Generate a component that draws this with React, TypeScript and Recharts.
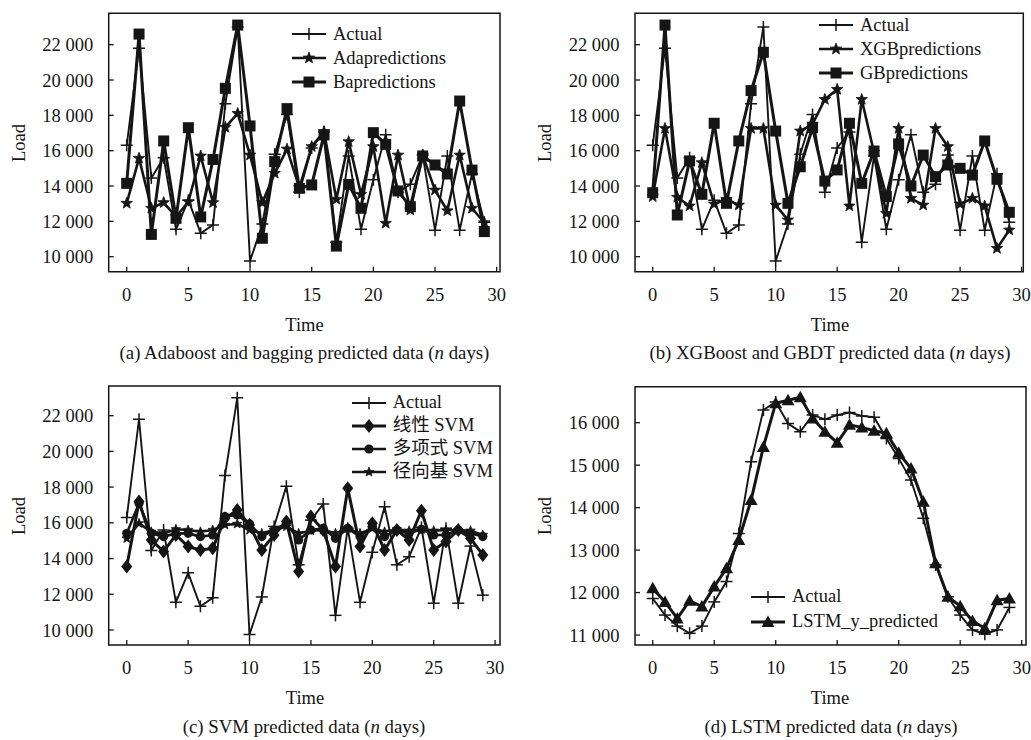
import React from 'react';
import { LineChart, Line, XAxis, YAxis, ReferenceArea, Legend } from 'recharts';

// ---------- data ----------
const days = [0, 1, 2, 3, 4, 5, 6, 7, 8, 9, 10, 11, 12, 13, 14, 15, 16, 17, 18, 19, 20, 21, 22, 23, 24, 25, 26, 27, 28, 29];

const actual = [16300, 21800, 14450, 15600, 11550, 13200, 11330, 11800, 18650, 23000, 9750, 11850, 15800, 18050, 13650, 16150, 17050, 10820, 15700, 11550, 14350, 16900, 13650, 14100, 15750, 11500, 15700, 11500, 14700, 11950];

const adaPred = [13020, 15570, 12740, 13060, 12260, 13110, 15700, 13060, 17320, 18110, 15750, 13060, 14720, 16090, 13900, 16230, 17080, 13250, 16510, 13530, 16230, 11890, 15750, 12640, 15750, 13770, 12600, 15750, 12740, 11920];
const baPred = [14150, 22600, 11260, 16550, 12170, 17300, 12250, 15500, 19530, 23110, 17400, 11040, 15380, 18380, 13870, 14060, 16890, 10600, 14090, 12740, 17020, 16360, 13720, 12830, 15700, 15190, 14680, 18810, 14900, 11420];

const xgbPred = [13400, 17260, 13360, 12870, 15320, 12980, 13250, 12920, 17260, 17260, 12920, 12080, 17110, 17500, 18900, 19470, 12870, 18900, 15900, 12450, 17260, 13300, 12920, 17260, 16230, 12980, 13300, 12870, 10470, 11510];
const gbPred = [13620, 23110, 12360, 15420, 13530, 17550, 13020, 16550, 19400, 21570, 17110, 13020, 15090, 17300, 14280, 14910, 17550, 14150, 15980, 13400, 16380, 14000, 15750, 14530, 15190, 15000, 14620, 16550, 14380, 12510];

const linearSvm = [13550, 17190, 15040, 14390, 15320, 14670, 14480, 14570, 16250, 16720, 15880, 14480, 15320, 16070, 13270, 16350, 15600, 13550, 17930, 14670, 15970, 14480, 15600, 15040, 16680, 14480, 14950, 15600, 15130, 14200];
const polySvm = [15410, 17090, 15410, 15230, 15410, 15410, 15230, 15320, 16350, 16440, 15940, 15230, 15600, 15970, 15040, 15600, 15690, 15130, 15690, 15230, 15790, 15230, 15600, 15410, 15640, 15320, 15320, 15600, 15410, 15230];
const rbfSvm = [15130, 15970, 15500, 15410, 15640, 15600, 15500, 15600, 15880, 15940, 15600, 15410, 15600, 15790, 15410, 15560, 15600, 15410, 15690, 15410, 15690, 15500, 15640, 15560, 15640, 15560, 15600, 15600, 15560, 15320];

const lstmActual = [11860, 11470, 11210, 11040, 11210, 11780, 12260, 13390, 15080, 16300, 16490, 15980, 15790, 16180, 16080, 16180, 16240, 16160, 16130, 15630, 15160, 14650, 13750, 12650, 11900, 11470, 11120, 11020, 11120, 11650];
const lstmPred = [12100, 11780, 11390, 11810, 11670, 12140, 12570, 13240, 14180, 15430, 16460, 16530, 16600, 16100, 15790, 15530, 15950, 15890, 15810, 15750, 15290, 14920, 14140, 12690, 11900, 11680, 11330, 11160, 11820, 11860];

const xTicks = [0, 5, 10, 15, 20, 25, 30];
const yTicksTop = [10000, 12000, 14000, 16000, 18000, 20000, 22000];
const yTicksLstm = [11000, 12000, 13000, 14000, 15000, 16000];

const dataA = days.map((t, i) => ({ t, actual: actual[i], ada: adaPred[i], ba: baPred[i] }));
const dataB = days.map((t, i) => ({ t, actual: actual[i], xgb: xgbPred[i], gb: gbPred[i] }));
const dataC = days.map((t, i) => ({ t, actual: actual[i], lin: linearSvm[i], poly: polySvm[i], rbf: rbfSvm[i] }));
const dataD = days.map((t, i) => ({ t, actual: lstmActual[i], lstm: lstmPred[i] }));

// ---------- styling ----------
const INK = '#151515';
const FONT = "'Liberation Serif', 'Times New Roman', 'Noto Sans CJK SC', serif";
const FS = 18.5;

const W_ACT = 1.9;
const W_MID = 2.6;
const W_BIG = 3;

type Kind = 'plus' | 'star' | 'smallstar' | 'square' | 'diamond' | 'circle' | 'triangle';

function starPath(cx: number, cy: number, ro: number, ri: number) {
  let d = '';
  for (let k = 0; k < 10; k++) {
    const r = k % 2 === 0 ? ro : ri;
    const a = -Math.PI / 2 + (k * Math.PI) / 5;
    d += (k === 0 ? 'M' : 'L') + (cx + r * Math.cos(a)).toFixed(2) + ',' + (cy + r * Math.sin(a)).toFixed(2);
  }
  return d + 'Z';
}

function Marker({ kind, cx, cy }: { kind: Kind; cx: number; cy: number }) {
  if (cx == null || cy == null || isNaN(cx) || isNaN(cy)) return null;
  switch (kind) {
    case 'plus':
      return (
        <g stroke={INK} strokeWidth={1.5}>
          <line x1={cx - 6} y1={cy} x2={cx + 6} y2={cy} />
          <line x1={cx} y1={cy - 6} x2={cx} y2={cy + 6} />
        </g>
      );
    case 'star':
      return <path d={starPath(cx, cy, 6, 2.5)} fill={INK} stroke={INK} strokeWidth={0.8} />;
    case 'smallstar':
      return <path d={starPath(cx, cy, 5, 2.1)} fill={INK} stroke={INK} strokeWidth={0.8} />;
    case 'square':
      return <rect x={cx - 5.5} y={cy - 5.5} width={11} height={11} fill={INK} />;
    case 'diamond':
      return <path d={`M${cx},${cy - 7}L${cx + 5.5},${cy}L${cx},${cy + 7}L${cx - 5.5},${cy}Z`} fill={INK} />;
    case 'circle':
      return <circle cx={cx} cy={cy} r={4.6} fill={INK} />;
    case 'triangle':
      return <path d={`M${cx},${cy - 6.5}L${cx + 6.5},${cy + 5}L${cx - 6.5},${cy + 5}Z`} fill={INK} />;
  }
  return null;
}

const dotOf = (kind: Kind) => (p: any) => <Marker key={`m-${kind}-${p.index}`} kind={kind} cx={p.cx} cy={p.cy} />;

const fmt = (v: number) => {
  const th = Math.floor(v / 1000);
  const rest = String(v % 1000).padStart(3, '0');
  return `${th} ${rest}`;
};

interface LegendSpec {
  name: string;
  kind: Kind;
  width: number;
}

const makeLegend = (spec: LegendSpec[], rowH: number) => (props: any) => {
  const payload: any[] = props.payload || [];
  const ordered = spec
    .map((s) => ({ s, e: payload.find((e: any) => e.value === s.name) }))
    .filter((o) => o.e);
  return (
    <div style={{ fontFamily: FONT, fontSize: FS, color: INK }}>
      {ordered.map(({ s, e }) => (
        <div key={e.value} style={{ display: 'flex', alignItems: 'center', height: rowH, whiteSpace: 'nowrap' }}>
          <svg width={34} height={16} style={{ display: 'block' }}>
            <line x1={0} y1={8} x2={34} y2={8} stroke={INK} strokeWidth={s.width} />
            <Marker kind={s.kind} cx={17} cy={8} />
          </svg>
          <span style={{ marginLeft: 7, lineHeight: rowH + 'px' }}>{e.value}</span>
        </div>
      ))}
    </div>
  );
};

const tickStyle = { fontSize: FS, fill: INK, fontFamily: FONT };

interface PanelProps {
  left: number;
  top: number;
  width: number;
  height: number;
  plot: { l: number; t: number; r: number; b: number };
  xDomain: [number, number];
  yDomain: [number, number];
  yTicks: number[];
  data: any[];
  children: React.ReactNode;
  legend: React.ReactNode;
}

const YAW = 60;
const XAH = 30;

function Panel({ left, top, width, height, plot, xDomain, yDomain, yTicks, data, children, legend }: PanelProps) {
  return (
    <div style={{ position: 'absolute', left, top, width, height }}>
      <LineChart
        width={width}
        height={height}
        data={data}
        margin={{ top: plot.t, left: plot.l - YAW, right: width - plot.r, bottom: height - plot.b - XAH }}
      >
        <XAxis
          dataKey="t"
          type="number"
          domain={xDomain}
          allowDataOverflow
          ticks={xTicks}
          interval={0}
          height={XAH}
          axisLine={false}
          tickSize={-5}
          tickMargin={21}
          tickLine={{ stroke: INK, strokeWidth: 1.3 }}
          tick={tickStyle}
        />
        <YAxis
          type="number"
          domain={yDomain}
          allowDataOverflow
          ticks={yTicks}
          interval={0}
          width={YAW}
          axisLine={false}
          tickSize={-5}
          tickMargin={20.5}
          tickLine={{ stroke: INK, strokeWidth: 1.3 }}
          tick={tickStyle}
          tickFormatter={fmt}
        />
        <ReferenceArea
          x1={xDomain[0]}
          x2={xDomain[1]}
          y1={yDomain[0]}
          y2={yDomain[1]}
          fill="none"
          fillOpacity={0}
          stroke={INK}
          strokeWidth={1.5}
          ifOverflow="visible"
        />
        {children}
        {legend}
      </LineChart>
    </div>
  );
}

const textStyle: React.CSSProperties = {
  position: 'absolute',
  fontFamily: FONT,
  fontSize: FS,
  color: INK,
  whiteSpace: 'nowrap',
  lineHeight: '22px',
};

function CenterText({ x, y, children, size }: { x: number; y: number; children: React.ReactNode; size?: number }) {
  return (
    <div style={{ ...textStyle, fontSize: size || FS, left: x - 250, top: y - 11, width: 500, textAlign: 'center' }}>{children}</div>
  );
}

function LoadLabel({ x, y }: { x: number; y: number }) {
  return (
    <div
      style={{
        ...textStyle,
        left: x - 30,
        top: y - 11,
        width: 60,
        textAlign: 'center',
        transform: 'rotate(-90deg)',
      }}
    >
      Load
    </div>
  );
}

const legendA: LegendSpec[] = [
  { name: 'Actual', kind: 'plus', width: W_ACT },
  { name: 'Adapredictions', kind: 'star', width: W_MID },
  { name: 'Bapredictions', kind: 'square', width: W_BIG },
];
const legendB: LegendSpec[] = [
  { name: 'Actual', kind: 'plus', width: W_ACT },
  { name: 'XGBpredictions', kind: 'star', width: W_MID },
  { name: 'GBpredictions', kind: 'square', width: W_BIG },
];
const legendC: LegendSpec[] = [
  { name: 'Actual', kind: 'plus', width: W_ACT },
  { name: '线性 SVM', kind: 'diamond', width: W_BIG },
  { name: '多项式 SVM', kind: 'circle', width: W_MID },
  { name: '径向基 SVM', kind: 'smallstar', width: W_MID },
];
const legendD: LegendSpec[] = [
  { name: 'Actual', kind: 'plus', width: W_ACT },
  { name: 'LSTM_y_predicted', kind: 'triangle', width: W_BIG },
];

export default function App() {
  const legendProps = { layout: 'vertical' as const, align: 'center' as const, verticalAlign: 'middle' as const };

  return (
    <div style={{ position: 'absolute', left: 0, top: 0, width: 1031, height: 740, background: '#fff', overflow: 'hidden', fontFamily: FONT }}>
      {/* (a) */}
      <Panel
        left={0}
        top={0}
        width={520}
        height={360}
        plot={{ l: 108.7, t: 13.3, r: 500, b: 271.7 }}
        xDomain={[-1.46, 30.27]}
        yDomain={[9150, 23775]}
        yTicks={yTicksTop}
        data={dataA}
        legend={<Legend {...legendProps} wrapperStyle={{ left: 292, top: 21.5, width: 200 }} content={makeLegend(legendA, 24.2)} />}
      >
        <Line dataKey="actual" name="Actual" stroke={INK} strokeWidth={W_ACT} dot={dotOf('plus')} activeDot={false} isAnimationActive={false} />
        <Line dataKey="ada" name="Adapredictions" stroke={INK} strokeWidth={W_MID} dot={dotOf('star')} activeDot={false} isAnimationActive={false} />
        <Line dataKey="ba" name="Bapredictions" stroke={INK} strokeWidth={W_BIG} dot={dotOf('square')} activeDot={false} isAnimationActive={false} />
      </Panel>

      {/* (b) */}
      <Panel
        left={520}
        top={0}
        width={511}
        height={360}
        plot={{ l: 115, t: 13.3, r: 503.3, b: 271.7 }}
        xDomain={[-1.44, 30.14]}
        yDomain={[9150, 23775]}
        yTicks={yTicksTop}
        data={dataB}
        legend={<Legend {...legendProps} wrapperStyle={{ left: 299, top: 13, width: 200 }} content={makeLegend(legendB, 24.2)} />}
      >
        <Line dataKey="actual" name="Actual" stroke={INK} strokeWidth={W_ACT} dot={dotOf('plus')} activeDot={false} isAnimationActive={false} />
        <Line dataKey="xgb" name="XGBpredictions" stroke={INK} strokeWidth={W_MID} dot={dotOf('star')} activeDot={false} isAnimationActive={false} />
        <Line dataKey="gb" name="GBpredictions" stroke={INK} strokeWidth={W_BIG} dot={dotOf('square')} activeDot={false} isAnimationActive={false} />
      </Panel>

      {/* (c) */}
      <Panel
        left={0}
        top={360}
        width={520}
        height={380}
        plot={{ l: 108.7, t: 26, r: 500, b: 285 }}
        xDomain={[-1.47, 30.4]}
        yDomain={[9160, 23661]}
        yTicks={yTicksTop}
        data={dataC}
        legend={<Legend {...legendProps} wrapperStyle={{ left: 351.7, top: 31.2, width: 170 }} content={makeLegend(legendC, 23)} />}
      >
        <Line dataKey="actual" name="Actual" stroke={INK} strokeWidth={W_ACT} dot={dotOf('plus')} activeDot={false} isAnimationActive={false} />
        <Line dataKey="lin" name="线性 SVM" stroke={INK} strokeWidth={W_BIG} dot={dotOf('diamond')} activeDot={false} isAnimationActive={false} />
        <Line dataKey="poly" name="多项式 SVM" stroke={INK} strokeWidth={W_MID} dot={dotOf('circle')} activeDot={false} isAnimationActive={false} />
        <Line dataKey="rbf" name="径向基 SVM" stroke={INK} strokeWidth={W_MID} dot={dotOf('smallstar')} activeDot={false} isAnimationActive={false} />
      </Panel>

      {/* (d) */}
      <Panel
        left={520}
        top={360}
        width={511}
        height={380}
        plot={{ l: 115, t: 26.7, r: 506, b: 285 }}
        xDomain={[-1.44, 30.35]}
        yDomain={[10765, 16848]}
        yTicks={yTicksLstm}
        data={dataD}
        legend={<Legend {...legendProps} wrapperStyle={{ left: 231, top: 224.2, width: 220 }} content={makeLegend(legendD, 25)} />}
      >
        <Line dataKey="actual" name="Actual" stroke={INK} strokeWidth={W_ACT} dot={dotOf('plus')} activeDot={false} isAnimationActive={false} />
        <Line dataKey="lstm" name="LSTM_y_predicted" stroke={INK} strokeWidth={W_BIG} dot={dotOf('triangle')} activeDot={false} isAnimationActive={false} />
      </Panel>

      {/* axis titles and captions */}
      <LoadLabel x={19} y={142.5} />
      <LoadLabel x={545} y={142.5} />
      <LoadLabel x={19} y={516} />
      <LoadLabel x={545} y={516} />

      <CenterText x={304.5} y={325}>Time</CenterText>
      <CenterText x={830} y={325}>Time</CenterText>
      <CenterText x={305} y={698}>Time</CenterText>
      <CenterText x={830} y={698}>Time</CenterText>

      <CenterText x={304.5} y={353} size={18.8}>(a) Adaboost and bagging predicted data (<i>n</i> days)</CenterText>
      <CenterText x={830} y={353} size={18.8}>(b) XGBoost and GBDT predicted data (<i>n</i> days)</CenterText>
      <CenterText x={304} y={727} size={18.8}>(c) SVM predicted data (<i>n</i> days)</CenterText>
      <CenterText x={831} y={727} size={18.8}>(d) LSTM predicted data (<i>n</i> days)</CenterText>
    </div>
  );
}
